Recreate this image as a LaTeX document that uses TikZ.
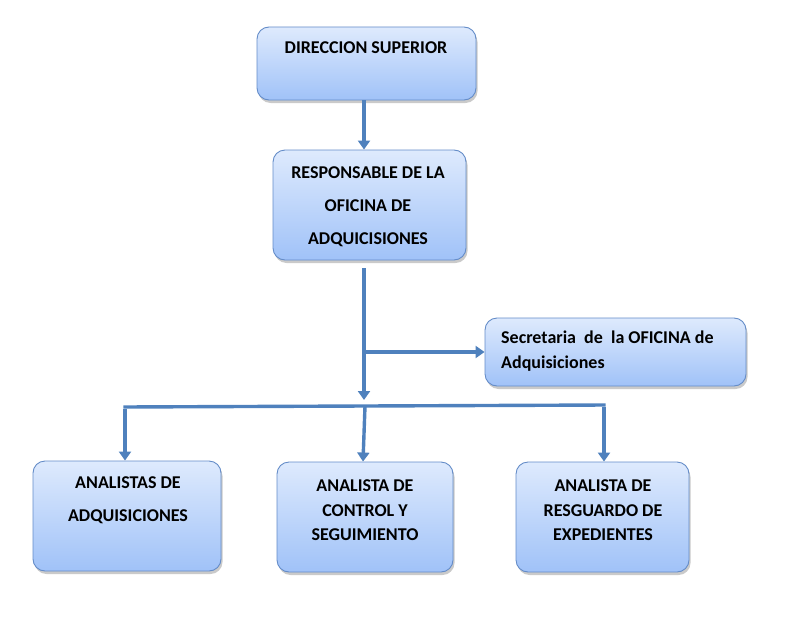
\documentclass[tikz,border=0pt]{standalone}
\usepackage{fontspec}
\setmainfont{Carlito}
\usetikzlibrary{arrows.meta,shadows}
\definecolor{boxtop}{RGB}{222,234,253}
\definecolor{boxbot}{RGB}{160,194,248}
\definecolor{boxline}{RGB}{100,140,200}
\definecolor{conn}{RGB}{79,129,189}
\tikzset{
  orgbox/.style={draw=boxline, line width=0.9pt, rounded corners=12pt,
    top color=boxtop, bottom color=boxbot,
    drop shadow={shadow xshift=1.5pt, shadow yshift=-3pt, opacity=0.35, fill=black!60},
    inner sep=0pt},
  lbl/.style={font=\bfseries\fontsize{18}{33}\selectfont, align=center, inner sep=0pt},
  conn/.style={draw=conn, line width=3.4pt},
  arr/.style={conn, -{Triangle[width=12pt,length=9pt]}}
}
\begin{document}
\begin{tikzpicture}[x=1pt,y=-1pt]
\useasboundingbox (0,0) rectangle (786,626);
% boxes
\node[orgbox, minimum width=219pt, minimum height=73pt] (b1) at (366.5,63.5) {};
\node[orgbox, minimum width=193pt, minimum height=110pt] (b2) at (369.5,205) {};
\node[orgbox, minimum width=261pt, minimum height=68pt] (b3) at (615.5,352) {};
\node[orgbox, minimum width=188pt, minimum height=110pt] (b4) at (127,516) {};
\node[orgbox, minimum width=176pt, minimum height=110pt] (b5) at (365,517) {};
\node[orgbox, minimum width=173pt, minimum height=110pt] (b6) at (602.5,517) {};
% texts
\node[lbl] (t1) at (366,48) {DIRECCION SUPERIOR};
\node[lbl] (t2) at (368,207) {RESPONSABLE DE LA\\OFICINA DE\\ADQUICISIONES};
\node[lbl, align=left, anchor=west, font=\bfseries\fontsize{18}{25}\selectfont] (t3) at (501,351) {Secretaria~ de~ la OFICINA de\\Adquisiciones};
\node[lbl] (t4) at (128,500.5) {ANALISTAS DE\\ADQUISICIONES};
\node[lbl, font=\bfseries\fontsize{18}{24.5}\selectfont] (t5) at (365,510.5) {ANALISTA DE\\CONTROL Y\\SEGUIMIENTO};
\node[lbl, font=\bfseries\fontsize{18}{24.5}\selectfont] (t6) at (603,510.5) {ANALISTA DE\\RESGUARDO DE\\EXPEDIENTES};
% connectors
\coordinate (top2) at (364,268);
\coordinate (jn) at (364,352);
\coordinate (hb) at (364,400);
\coordinate (hl) at (125,407);
\coordinate (hm) at (365,406);
\coordinate (hr) at (604,405);
\draw[arr] (b1.south -| top2) -- (b2.north -| top2);
\draw[arr] (top2) -- (hb);
\draw[arr] (jn) -- (b3.west);
\draw[conn] ([xshift=-1.7pt]hl) -- (hm) -- ([xshift=1.7pt]hr);
\draw[arr] ([yshift=-1.7pt]hl) -- (b4.north -| hl);
\draw[arr] (hm) -- ([xshift=-2pt]b5.north);
\draw[arr] ([yshift=-1.7pt]hr) -- (b6.north -| hr);
\end{tikzpicture}
\end{document}
